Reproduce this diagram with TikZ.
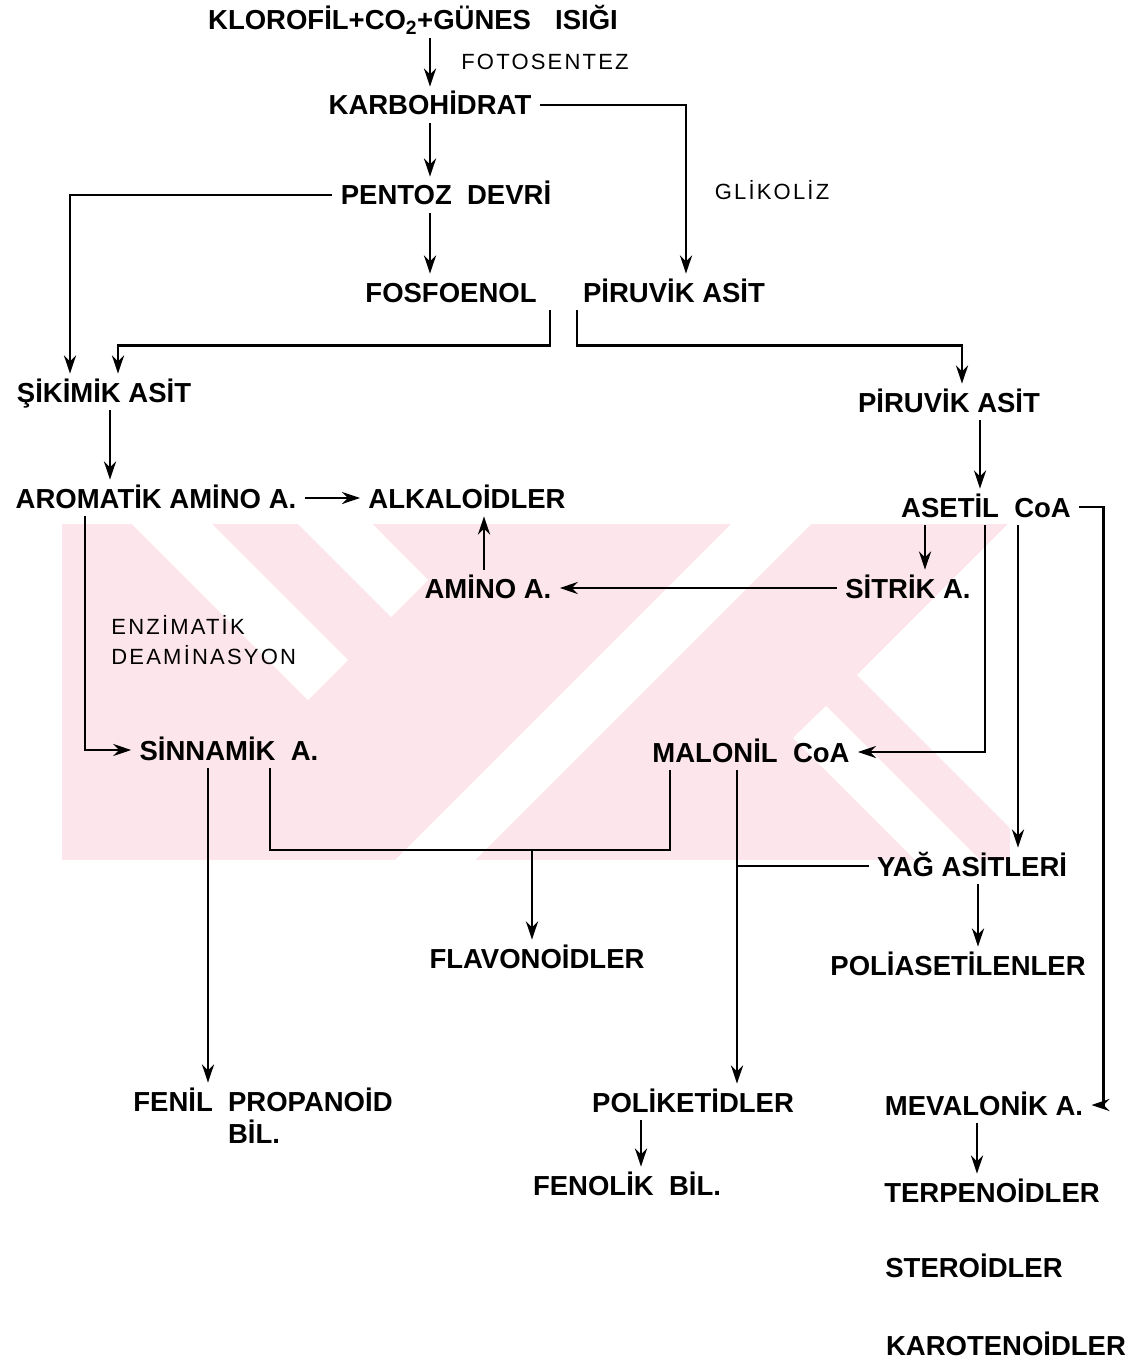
\documentclass[tikz,border=0pt]{standalone}
\usepackage{fontspec}
\setmainfont{Liberation Sans}
\usepackage{xcolor}
\usepackage{tikz}
\usetikzlibrary{arrows.meta}
\definecolor{wmpink}{RGB}{253,230,235}

\tikzset{
  box/.style={inner sep=7pt, text height=20pt, text depth=0pt,
    font=\bfseries\fontsize{27.5}{33}\selectfont},
  lbl/.style={inner sep=0pt,
    font=\fontsize{22}{30}\selectfont\addfontfeatures{LetterSpace=10}},
}

\begin{document}
\begin{tikzpicture}[x=1pt, y=-1pt, line width=2.8pt,
    >={Stealth[length=18pt,width=12pt]}]
  \useasboundingbox (0,0) rectangle (1137,1364);
  % watermark
  \begin{scope}
    \clip (62,524) rectangle (1010,860);
    \fill[wmpink] (62,524) rectangle (1010,860);
    \fill[white] (8,400) -- (88,400) -- (348,660) -- (308,700) -- cycle;
    \fill[white] (174,400) -- (249,400) -- (428,580) -- (391,617) -- cycle;
    \fill[white] (1255,0) -- (1335,0) -- (435,900) -- (355,900) -- cycle;
    \fill[white] (857,675) -- (1200,332) -- (1200,1018) -- cycle;
    \fill[white] (793,738) -- (826,706) -- (1020,900) -- (955,900) -- cycle;
  \end{scope}

  \node[box] (klorofil) at (413,20) {KLOROFİL+CO\textsubscript{2}+GÜNES\hspace{0.6em} ISIĞI};
  \node[lbl] (fotosentez) at (545,62) {FOTOSENTEZ};
  \node[box] (karbo) at (430,105) {KARBOHİDRAT};
  \node[lbl] (glikoliz) at (772,190) {GLİKOLİZ};
  \node[box] (pentoz) at (446,195) {PENTOZ\ \ DEVRİ};
  \node[box] (fosfo) at (451,292) {FOSFOENOL};
  \node[box] (piruvik) at (674,292) {PİRUVİK ASİT};
  \node[box] (sikimik) at (104,392) {ŞİKİMİK ASİT};
  \node[box] (piruvikb) at (949,402) {PİRUVİK ASİT};
  \node[box] (aromatik) at (156,498) {AROMATİK AMİNO A.};
  \node[box] (alkaloid) at (467,498) {ALKALOİDLER};
  \node[box] (asetil) at (986,507) {ASETİL\ \ CoA};
  \node[box] (aminoa) at (488,588) {AMİNO A.};
  \node[box] (sitrik) at (908,588) {SİTRİK A.};
  \node[lbl, align=left, anchor=west] (enzim) at (110,640) {ENZİMATİK\\DEAMİNASYON};
  \node[box] (sinnamik) at (229,750) {SİNNAMİK\ \ A.};
  \node[box] (malonil) at (751,752) {MALONİL\ \ CoA};
  \node[box] (yag) at (972,866) {YAĞ ASİTLERİ};
  \node[box] (flavon) at (537,958) {FLAVONOİDLER};
  \node[box] (polias) at (958,965) {POLİASETİLENLER};
  \node[box] (fenil) at (263,1101) {FENİL\ \ PROPANOİD};
  \node[box] (fenilb) at (254,1133) {BİL.};
  \node[box] (poliket) at (693,1102) {POLİKETİDLER};
  \node[box] (mevalon) at (984,1105) {MEVALONİK A.};
  \node[box] (fenolik) at (627,1185) {FENOLİK\ \ BİL.};
  \node[box] (terpen) at (992,1192) {TERPENOİDLER};
  \node[box] (steroid) at (974,1267) {STEROİDLER};
  \node[box] (karoten) at (1006,1345) {KAROTENOİDLER};

  \coordinate (flj) at (532,850);

  \draw[->] ([xshift=17pt]klorofil.south) -- (karbo.north);
  \draw[->] (karbo.south) -- ([xshift=-16pt]pentoz.north);
  \draw[->] (karbo.east) -| ([xshift=12pt]piruvik.north);
  \draw[->] (pentoz.west) -| ([xshift=-34pt]sikimik.north);
  \draw[->] ([xshift=-16pt]pentoz.south) -- ([xshift=-21pt]fosfo.north);
  \draw[->] ([xshift=99pt]fosfo.south) -- ++(0,35) -| ([xshift=14pt]sikimik.north);
  \draw[->] ([xshift=-97pt]piruvik.south) -- ++(0,35) -| ([xshift=13pt]piruvikb.north);
  \draw[->] ([xshift=6pt]sikimik.south) -- ([xshift=-46pt]aromatik.north);
  \draw[->] ([xshift=31pt]piruvikb.south) -- ([xshift=-6pt]asetil.north);
  \draw[->] (aromatik.east) -- (alkaloid.west);
  \draw[->] ([xshift=-4pt]aminoa.north) -- ([xshift=17pt]alkaloid.south);
  \draw[->] (sitrik.west) -- (aminoa.east);
  \draw[->] ([xshift=-61pt]asetil.south) -- ([xshift=17pt]sitrik.north);
  \draw[->] ([xshift=-1pt]asetil.south) |- (malonil.east);
  \draw[->] ([xshift=32pt]asetil.south) -- ([xshift=46pt]yag.north);
  \draw[->] (asetil.east) -- ++(24,0) |- (mevalon.east);
  \draw[->] ([xshift=-71pt]aromatik.south) |- (sinnamik.west);
  \draw[->] ([xshift=-21pt]sinnamik.south) -- ([xshift=-55pt]fenil.north);
  \draw ([xshift=41pt]sinnamik.south) |- (flj) -| ([xshift=-81pt]malonil.south);
  \draw[->] (flj) -- (flj |- flavon.north);
  \coordinate (pk) at ([xshift=44pt]poliket.north);
  \draw[->] ([xshift=-14pt]malonil.south) -- (pk);
  \draw (yag.west) -- (yag.west -| pk);
  \draw[->] ([xshift=6pt]yag.south) -- ([xshift=20pt]polias.north);
  \draw[->] ([xshift=-52pt]poliket.south) -- ([xshift=14pt]fenolik.north);
  \draw[->] ([xshift=-7pt]mevalon.south) -- ([xshift=-15pt]terpen.north);
\end{tikzpicture}
\end{document}
